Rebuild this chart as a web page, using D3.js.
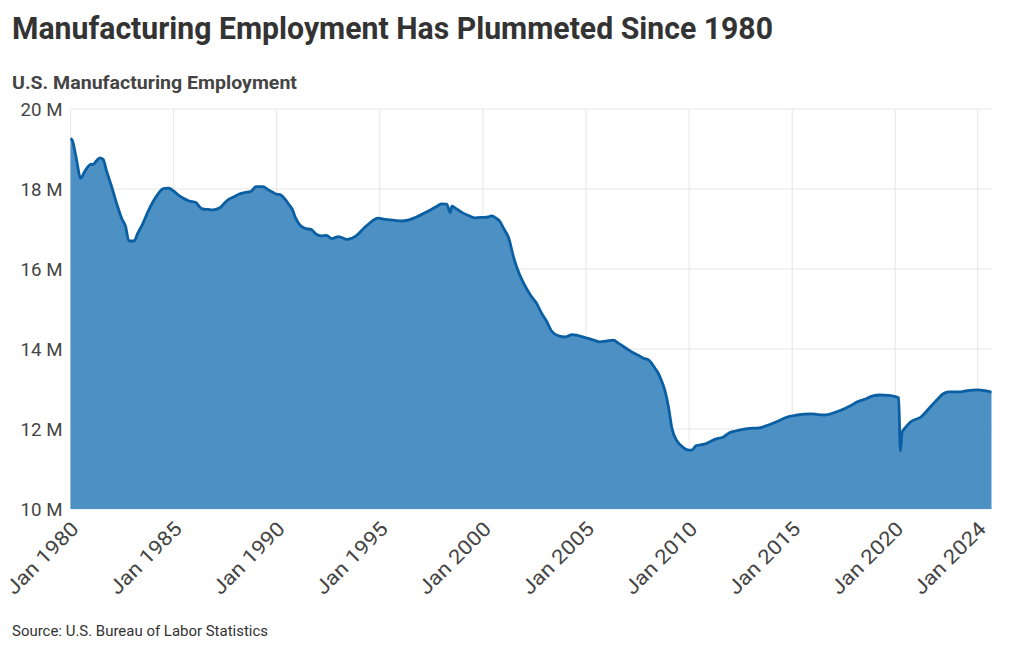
<!DOCTYPE html>
<html>
<head>
<meta charset="utf-8">
<script src="https://cdn.jsdelivr.net/npm/d3@7"></script>
<style>
  html, body { margin: 0; padding: 0; background: #fff; }
  text { font-family: Roboto, "Noto Sans", sans-serif; }
</style>
</head>
<body>
<script>
const titleText = "Manufacturing Employment Has Plummeted Since 1980";
const subtitleText = "U.S. Manufacturing Employment";
const sourceText = "Source: U.S. Bureau of Labor Statistics";

const dates = [
  "1980-01","1980-02","1980-04","1980-07","1980-09","1980-11","1981-01","1981-02","1981-04","1981-06",
  "1981-08","1981-10","1982-01","1982-04","1982-07","1982-09","1982-11","1983-02","1983-04","1983-07",
  "1983-10","1984-01","1984-04","1984-07","1984-10","1985-01","1985-04","1985-07","1985-10","1986-02",
  "1986-04","1986-06","1986-09","1986-12","1987-04","1987-07","1987-09","1987-12","1988-03","1988-08",
  "1988-10","1989-01","1989-05","1989-08","1989-11","1990-01","1990-03","1990-06","1990-08","1990-10",
  "1990-12","1991-03","1991-06","1991-09","1991-12","1992-03","1992-06","1992-09","1993-01","1993-06",
  "1993-11","1994-04","1994-08","1994-12","1995-04","1995-09","1996-02","1996-06","1996-11","1997-03",
  "1997-07","1997-11","1998-01","1998-04","1998-06","1998-07","1998-09","1999-01","1999-05","1999-08",
  "2000-01","2000-04","2000-06","2000-08","2000-11","2001-01","2001-04","2001-07","2001-10","2002-01",
  "2002-05","2002-08","2002-11","2003-02","2003-05","2003-09","2004-01","2004-05","2004-08","2005-01",
  "2005-05","2005-09","2006-01","2006-05","2006-08","2006-12","2007-04","2007-08","2007-11","2008-01",
  "2008-03","2008-05","2008-07","2008-09","2008-11","2009-01","2009-03","2009-06","2009-09","2010-01",
  "2010-03","2010-05","2010-10","2011-04","2011-09","2012-01","2012-04","2012-11","2013-06","2014-01",
  "2014-06","2014-09","2015-04","2015-12","2016-04","2016-08","2017-03","2017-08","2017-11","2018-03",
  "2018-07","2018-12","2019-04","2019-09","2020-01","2020-03","2020-04","2020-05","2020-07","2020-10",
  "2021-04","2021-09","2022-01","2022-05","2022-08","2023-03","2023-07","2024-01","2024-05","2024-09"
];
const employmentMillions = [
  19.26,19.22,18.85,18.27,18.42,18.55,18.62,18.61,18.70,18.78,
  18.74,18.45,18.05,17.62,17.25,17.07,16.70,16.70,16.88,17.12,
  17.42,17.68,17.88,18.01,18.02,17.95,17.84,17.76,17.70,17.66,
  17.56,17.50,17.49,17.48,17.53,17.66,17.74,17.80,17.87,17.92,
  17.94,18.06,18.06,17.98,17.91,17.87,17.86,17.74,17.62,17.50,
  17.28,17.08,17.01,16.99,16.87,16.83,16.84,16.76,16.81,16.74,
  16.82,17.03,17.18,17.27,17.24,17.22,17.20,17.23,17.31,17.40,
  17.49,17.59,17.63,17.62,17.41,17.57,17.52,17.41,17.33,17.28,
  17.29,17.30,17.33,17.29,17.18,17.02,16.78,16.28,15.90,15.62,
  15.33,15.16,14.91,14.70,14.45,14.33,14.30,14.36,14.34,14.28,
  14.23,14.18,14.20,14.22,14.14,14.03,13.92,13.83,13.76,13.74,
  13.66,13.53,13.40,13.20,12.95,12.55,12.03,11.70,11.56,11.47,
  11.48,11.58,11.62,11.74,11.80,11.92,11.95,12.01,12.03,12.13,
  12.22,12.28,12.35,12.38,12.36,12.35,12.43,12.52,12.58,12.68,
  12.74,12.83,12.85,12.84,12.81,12.78,11.45,11.92,12.04,12.18,
  12.30,12.53,12.72,12.88,12.93,12.93,12.96,12.98,12.96,12.92
];
const yTicks = [10, 12, 14, 16, 18, 20];
const xTickDates = ["1980-01","1985-01","1990-01","1995-01","2000-01","2005-01","2010-01","2015-01","2020-01","2024-01"];

const parse = d3.timeParse("%Y-%m");
const data = dates.map((d, i) => ({ date: parse(d), value: employmentMillions[i] }));

const W = 1020, H = 650;
const plotLeft = 70.5, plotRight = 991.5, plotTop = 109, plotBottom = 509;

const svg = d3.select("body").append("svg").attr("width", W).attr("height", H);

const x = d3.scaleTime().domain(d3.extent(data, d => d.date)).range([plotLeft, plotRight]);
const y = d3.scaleLinear().domain([10, 20]).range([plotBottom, plotTop]);

// gridlines
const grid = svg.append("g");
grid.selectAll("line.h").data(yTicks).enter().append("line")
  .attr("x1", plotLeft).attr("x2", plotRight)
  .attr("y1", d => y(d)).attr("y2", d => y(d))
  .attr("stroke", "#e6e6e6").attr("stroke-width", 1);
grid.selectAll("line.v").data(xTickDates.map(parse)).enter().append("line")
  .attr("x1", d => x(d)).attr("x2", d => x(d))
  .attr("y1", plotTop).attr("y2", plotBottom)
  .attr("stroke", "#e6e6e6").attr("stroke-width", 1);

// area + line
const area = d3.area().x(d => x(d.date)).y0(y(10)).y1(d => y(d.value)).curve(d3.curveMonotoneX);
const line = d3.line().x(d => x(d.date)).y(d => y(d.value)).curve(d3.curveMonotoneX);

svg.append("path").datum(data).attr("d", area)
  .attr("fill", "#3f88c0").attr("fill-opacity", 0.93);
svg.append("path").datum(data).attr("d", line)
  .attr("fill", "none").attr("stroke", "#0a5fa3").attr("stroke-width", 2.8)
  .attr("stroke-linejoin", "round");

// y axis
const yAxis = d3.axisLeft(y).tickValues(yTicks).tickSize(0).tickPadding(8)
  .tickFormat(d => d + " M");
const gy = svg.append("g").attr("transform", `translate(${plotLeft},0)`).call(yAxis);
gy.select(".domain").remove();
gy.selectAll("text").attr("font-size", 18).attr("fill", "#444")
  .attr("font-family", "Roboto, sans-serif").attr("dy", "0.35em")
  .attr("textLength", 42).attr("lengthAdjust", "spacingAndGlyphs");

// x axis
const xAxis = d3.axisBottom(x).tickValues(xTickDates.map(parse)).tickSize(0)
  .tickFormat(d3.timeFormat("%b %Y"));
const gx = svg.append("g").attr("transform", `translate(0,${plotBottom})`).call(xAxis);
gx.select(".domain").remove();
gx.selectAll("text")
  .attr("font-size", 20).attr("fill", "#444").attr("font-family", "Roboto, sans-serif")
  .attr("text-anchor", "end")
  .attr("dy", null).attr("y", 0)
  .attr("textLength", 93).attr("lengthAdjust", "spacingAndGlyphs")
  .attr("transform", "translate(9,21) rotate(-45)");

// titles
svg.append("text").attr("x", 12).attr("y", 39).text(titleText)
  .attr("font-size", 31).attr("font-weight", 700).attr("fill", "#333")
  .attr("textLength", 761).attr("lengthAdjust", "spacingAndGlyphs");
svg.append("text").attr("x", 12).attr("y", 89).text(subtitleText)
  .attr("font-size", 18).attr("font-weight", 700).attr("fill", "#444")
  .attr("textLength", 285).attr("lengthAdjust", "spacingAndGlyphs");
svg.append("text").attr("x", 12).attr("y", 636).text(sourceText)
  .attr("font-size", 14.5).attr("fill", "#333")
  .attr("textLength", 256).attr("lengthAdjust", "spacingAndGlyphs");
</script>
</body>
</html>
